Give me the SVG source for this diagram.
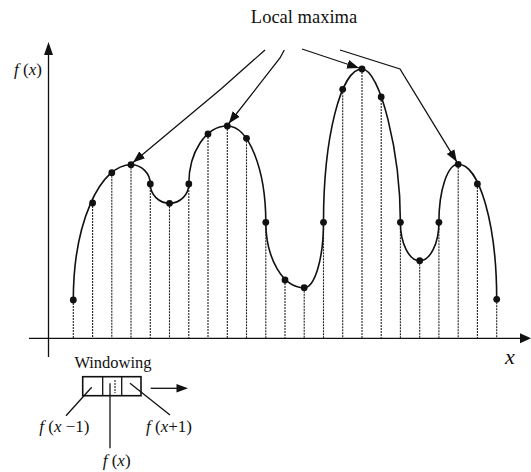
<svg xmlns="http://www.w3.org/2000/svg" width="531" height="472" viewBox="0 0 531 472">
<style>
.t{font-family:"Liberation Serif","Times New Roman",serif;fill:#111}
.i{font-style:italic}
.stem{stroke:#222;stroke-width:1.1;stroke-dasharray:2 1;fill:none}
.ln{stroke:#111;stroke-width:1.3;fill:none}
.curve{stroke:#111;stroke-width:1.6;fill:none}
.dot{fill:#111}
.arr{stroke:#111;stroke-width:1.3;fill:none;marker-end:url(#ah)}
</style>
<defs>
<marker id="ah" markerUnits="userSpaceOnUse" markerWidth="14" markerHeight="10" refX="12" refY="5" orient="auto">
<path d="M0,0.5 L12,5 L0,9.5 Z" fill="#111"/>
</marker>
</defs>
<rect width="531" height="472" fill="#fff"/>

<g id="axes">
<line class="ln" x1="48.5" y1="357" x2="48.5" y2="52"/>
<polygon points="48.5,42 44,55 53,55" fill="#111"/>
<line class="ln" x1="29" y1="338.3" x2="522" y2="338.3"/>
<polygon points="531,338.3 520,333.3 520,343.3" fill="#111"/>
<text class="t" x="14" y="75" font-size="17"><tspan class="i">f</tspan> (<tspan class="i">x</tspan>)</text>
<text class="t i" x="505" y="364" font-size="22">x</text>
</g>

<g id="title">
<text class="t" x="304" y="22.5" font-size="18.5" text-anchor="middle">Local maxima</text>
</g>

<g id="stems">
<line class="stem" x1="73.3" y1="300" x2="73.3" y2="338"/>
<line class="stem" x1="92.6" y1="203" x2="92.6" y2="338"/>
<line class="stem" x1="111.8" y1="172.7" x2="111.8" y2="338"/>
<line class="stem" x1="131" y1="164.7" x2="131" y2="338"/>
<line class="stem" x1="150.3" y1="184" x2="150.3" y2="338"/>
<line class="stem" x1="169.5" y1="203.3" x2="169.5" y2="338"/>
<line class="stem" x1="188.8" y1="184" x2="188.8" y2="338"/>
<line class="stem" x1="208" y1="134" x2="208" y2="338"/>
<line class="stem" x1="227.3" y1="126" x2="227.3" y2="338"/>
<line class="stem" x1="246.5" y1="138.3" x2="246.5" y2="338"/>
<line class="stem" x1="265.8" y1="222.3" x2="265.8" y2="338"/>
<line class="stem" x1="285" y1="280" x2="285" y2="338"/>
<line class="stem" x1="304.2" y1="287.7" x2="304.2" y2="338"/>
<line class="stem" x1="323.5" y1="222.3" x2="323.5" y2="338"/>
<line class="stem" x1="342.7" y1="89.3" x2="342.7" y2="338"/>
<line class="stem" x1="362" y1="69" x2="362" y2="338"/>
<line class="stem" x1="381.2" y1="97" x2="381.2" y2="338"/>
<line class="stem" x1="400.4" y1="222.3" x2="400.4" y2="338"/>
<line class="stem" x1="419.7" y1="260.7" x2="419.7" y2="338"/>
<line class="stem" x1="438.9" y1="222.3" x2="438.9" y2="338"/>
<line class="stem" x1="458.2" y1="164.3" x2="458.2" y2="338"/>
<line class="stem" x1="477.4" y1="184" x2="477.4" y2="338"/>
<line class="stem" x1="496.7" y1="299.3" x2="496.7" y2="338"/>
</g>

<g id="curve">
<path class="curve" d="M73.3,300 A57.7,135.3 0 0 1 131,164.7 A19.3,19.3 0 0 1 150.3,184 A19.25,19.3 0 0 0 188.8,184 A38.5,58 0 0 1 227.3,126 A38.5,96.3 0 0 1 265.8,222.3 A38.4,65.4 0 0 0 304.2,287.7 A19.3,65.4 0 0 0 323.5,222.3 A38.5,153.3 0 0 1 362,69 C380,69 400.4,152.3 400.4,222.3 A19.25,38.4 0 0 0 438.9,222.3 A19.3,58 0 0 1 458.2,164.3 A38.5,135 0 0 1 496.7,299.3"/>
</g>

<g id="samples">
<circle class="dot" cx="73.3" cy="300" r="3.4"/>
<circle class="dot" cx="92.6" cy="203" r="3.4"/>
<circle class="dot" cx="111.8" cy="172.7" r="3.4"/>
<circle class="dot" cx="131" cy="164.7" r="3.4"/>
<circle class="dot" cx="150.3" cy="184" r="3.4"/>
<circle class="dot" cx="169.5" cy="203.3" r="3.4"/>
<circle class="dot" cx="188.8" cy="184" r="3.4"/>
<circle class="dot" cx="208" cy="134" r="3.4"/>
<circle class="dot" cx="227.3" cy="126" r="3.4"/>
<circle class="dot" cx="246.5" cy="138.3" r="3.4"/>
<circle class="dot" cx="265.8" cy="222.3" r="3.4"/>
<circle class="dot" cx="285" cy="280" r="3.4"/>
<circle class="dot" cx="304.2" cy="287.7" r="3.4"/>
<circle class="dot" cx="323.5" cy="222.3" r="3.4"/>
<circle class="dot" cx="342.7" cy="89.3" r="3.4"/>
<circle class="dot" cx="362" cy="69" r="3.4"/>
<circle class="dot" cx="381.2" cy="97" r="3.4"/>
<circle class="dot" cx="400.4" cy="222.3" r="3.4"/>
<circle class="dot" cx="419.7" cy="260.7" r="3.4"/>
<circle class="dot" cx="438.9" cy="222.3" r="3.4"/>
<circle class="dot" cx="458.2" cy="164.3" r="3.4"/>
<circle class="dot" cx="477.4" cy="184" r="3.4"/>
<circle class="dot" cx="496.7" cy="299.3" r="3.4"/>
</g>

<g id="connectors">
<path class="arr" d="M265,50 L221,89 L133,162.5"/>
<path class="arr" d="M284.3,50 L280,58 L228.8,123.5"/>
<path class="arr" d="M302,49 L359,68"/>
<path class="arr" d="M340,50 L400,69 L456.8,161.8"/>
</g>

<g id="window">
<text class="t" x="113" y="368.3" font-size="16.5" text-anchor="middle">Windowing</text>
<rect x="82.7" y="376.7" width="58.3" height="19" fill="none" stroke="#111" stroke-width="1.6"/>
<line class="ln" x1="102.7" y1="376.7" x2="102.7" y2="395.7"/>
<line class="ln" x1="121.7" y1="376.7" x2="121.7" y2="395.7"/>
<line class="stem" x1="115" y1="380" x2="115" y2="393"/>
<line class="ln" x1="150.7" y1="388.3" x2="178" y2="388.3"/>
<polygon points="188,388.3 176.5,384 176.5,392.6" fill="#111"/>
<line class="ln" x1="91.7" y1="387.3" x2="66" y2="415.7"/>
<line class="ln" x1="110" y1="383.3" x2="110" y2="448.3"/>
<line class="ln" x1="130" y1="383.3" x2="170" y2="415"/>
<text class="t" x="39.3" y="432" font-size="17"><tspan class="i">f</tspan> (<tspan class="i">x</tspan> −1)</text>
<text class="t" x="146" y="432" font-size="17"><tspan class="i">f</tspan> (<tspan class="i">x</tspan>+1)</text>
<text class="t" x="102.7" y="466" font-size="17"><tspan class="i">f</tspan> (<tspan class="i">x</tspan>)</text>
</g>
</svg>
